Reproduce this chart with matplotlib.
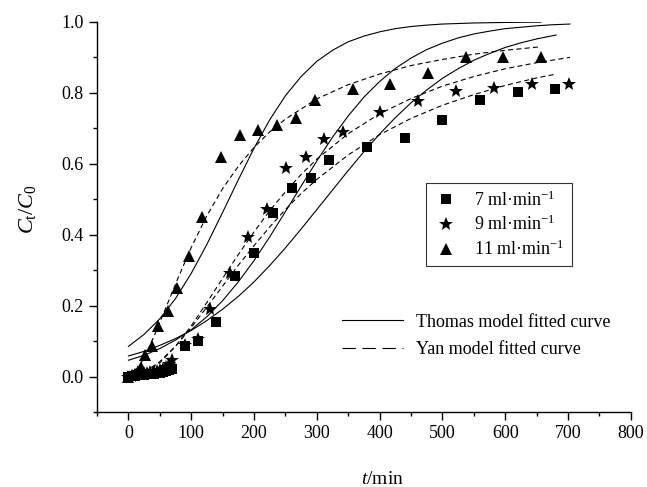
import matplotlib
matplotlib.use("Agg")
import matplotlib.pyplot as plt
from matplotlib.lines import Line2D
from matplotlib.ticker import MultipleLocator

plt.rcParams['font.family'] = ['Liberation Serif', 'DejaVu Serif']
plt.rcParams['mathtext.fontset'] = 'custom'
plt.rcParams['mathtext.rm'] = 'Liberation Serif'
plt.rcParams['mathtext.it'] = 'Liberation Serif:italic'

# measured points, 7 / 9 / 11 ml/min
t7 = [0, 5, 10, 15, 20, 25, 30, 35, 40, 45, 50, 55, 60, 65, 70,
      90, 110, 140, 170, 200, 230, 260, 290, 320, 380, 440, 500, 560, 620, 680]
c7 = [0.0, 0.001, 0.002, 0.003, 0.004, 0.005, 0.006, 0.007, 0.008, 0.010,
      0.011, 0.013, 0.015, 0.018, 0.022,
      0.086, 0.101, 0.155, 0.284, 0.348, 0.46, 0.531, 0.559, 0.612,
      0.648, 0.673, 0.723, 0.779, 0.801, 0.81]

t9 = [0, 5, 10, 15, 20, 25, 30, 35, 40, 45, 50, 55, 60, 65, 69,
      90, 110, 130, 161, 191, 221, 251, 282, 311, 342, 401, 461, 522, 582, 642, 702]
c9 = [0.0, 0.002, 0.004, 0.006, 0.008, 0.010, 0.011, 0.012, 0.013, 0.015,
      0.018, 0.022, 0.028, 0.035, 0.047,
      0.09, 0.105, 0.191, 0.291, 0.394, 0.472, 0.587, 0.62, 0.669, 0.69,
      0.746, 0.777, 0.806, 0.814, 0.824, 0.824]

t11 = [0, 5, 10, 15, 20, 27, 37, 47, 63, 77, 97, 117, 147, 177, 207,
       237, 267, 297, 357, 417, 477, 537, 597, 657]
c11 = [0.0, 0.003, 0.008, 0.015, 0.028, 0.061, 0.085, 0.143, 0.185, 0.249,
       0.341, 0.449, 0.62, 0.681, 0.695, 0.709, 0.728, 0.779, 0.81, 0.826,
       0.855, 0.90, 0.90, 0.90]

# Thomas fitted curves (solid)
th7_t = [0, 25, 50, 75, 100, 125, 150, 175, 200, 225, 250, 275, 300, 325,
         350, 375, 400, 425, 450, 475, 500, 525, 550, 575, 600, 625, 650, 681]
th7_c = [0.058, 0.071, 0.088, 0.107, 0.130, 0.158, 0.190, 0.226, 0.267,
         0.313, 0.363, 0.416, 0.471, 0.526, 0.581, 0.634, 0.684, 0.730,
         0.772, 0.808, 0.841, 0.868, 0.892, 0.911, 0.928, 0.941, 0.952, 0.963]
th9_t = [0, 25, 50, 75, 100, 125, 150, 175, 200, 225, 250, 275, 300, 325,
         350, 375, 400, 425, 450, 475, 500, 525, 550, 575, 600, 625, 650,
         675, 703]
th9_c = [0.046, 0.060, 0.079, 0.103, 0.132, 0.169, 0.214, 0.267, 0.327,
         0.394, 0.465, 0.537, 0.608, 0.675, 0.735, 0.788, 0.832, 0.869,
         0.898, 0.922, 0.940, 0.955, 0.966, 0.974, 0.981, 0.985, 0.989,
         0.992, 0.994]
th11_t = [0, 25, 50, 75, 100, 125, 150, 175, 200, 225, 250, 275, 300, 325,
          350, 375, 400, 425, 450, 475, 500, 550, 600, 657]
th11_c = [0.085, 0.119, 0.163, 0.220, 0.291, 0.373, 0.463, 0.555, 0.644,
          0.724, 0.792, 0.846, 0.889, 0.920, 0.944, 0.960, 0.972, 0.981,
          0.987, 0.991, 0.994, 0.997, 0.9985, 0.9994]

# Yan fitted curves (dashed)
yan7_t = [0, 10, 25, 50, 75, 100, 125, 150, 175, 200, 225, 250, 275, 300,
          350, 400, 450, 500, 550, 600, 650, 681]
yan7_c = [0.0, 0.002, 0.012, 0.042, 0.086, 0.138, 0.196, 0.255, 0.314,
          0.369, 0.422, 0.471, 0.516, 0.556, 0.625, 0.682, 0.728, 0.765,
          0.795, 0.821, 0.842, 0.853]
yan9_t = [0, 10, 25, 50, 75, 100, 125, 150, 175, 200, 225, 250, 275, 300,
          350, 400, 450, 500, 550, 600, 650, 703]
yan9_c = [0.0, 0.0015, 0.0097, 0.039, 0.085, 0.143, 0.209, 0.277, 0.344,
          0.408, 0.468, 0.521, 0.570, 0.613, 0.685, 0.741, 0.784, 0.819,
          0.846, 0.868, 0.885, 0.90]
yan11_t = [0, 5, 10, 20, 30, 45, 60, 80, 100, 125, 150, 175, 200, 225, 250,
           300, 350, 400, 450, 500, 550, 600, 657]
yan11_c = [0.0, 0.004, 0.012, 0.037, 0.071, 0.131, 0.196, 0.282, 0.364,
           0.454, 0.530, 0.593, 0.646, 0.690, 0.726, 0.783, 0.823, 0.853,
           0.877, 0.894, 0.909, 0.920, 0.930]

fig = plt.figure(figsize=(6.47, 4.87), dpi=100)
ax = fig.add_axes([0.150, 0.154, 0.825, 0.801])

lw = 0.8
dash = (4.5, 3)
for tt, cc in [(th7_t, th7_c), (th9_t, th9_c), (th11_t, th11_c)]:
    ax.plot(tt, cc, color='black', lw=lw)
for tt, cc in [(yan7_t, yan7_c), (yan9_t, yan9_c), (yan11_t, yan11_c)]:
    ax.plot(tt, cc, color='black', lw=lw, dashes=dash)

h7, = ax.plot(t7, c7, 's', color='black', ms=7, mew=0, label='7 ml·min$^{-1}$')
h9, = ax.plot(t9, c9, '*', color='black', ms=10.5, mew=0, label='9 ml·min$^{-1}$')
h11, = ax.plot(t11, c11, '^', color='black', ms=8.5, mew=0, label='11 ml·min$^{-1}$')

ax.set_xlim(-50, 800)
ax.set_ylim(-0.1, 1.0)
ax.set_xticks([0, 100, 200, 300, 400, 500, 600, 700, 800])
ax.xaxis.set_minor_locator(MultipleLocator(50))
ax.set_yticks([0.0, 0.2, 0.4, 0.6, 0.8, 1.0])
ax.set_yticklabels(['0.0', '0.2', '0.4', '0.6', '0.8', '1.0'])
ax.yaxis.set_minor_locator(MultipleLocator(0.1))

for side in ['top', 'right']:
    ax.spines[side].set_visible(False)
for side in ['left', 'bottom']:
    ax.spines[side].set_linewidth(1.0)
ax.tick_params(which='major', direction='out', length=6, width=1.0, labelsize=13)
ax.tick_params(which='minor', direction='out', length=3, width=1.0)

ax.set_xlabel('$t$/min', fontsize=14)
ax.xaxis.set_label_coords(0.535, -0.15)
ax.set_ylabel(r'$C_\mathrm{t}/C_\mathrm{0}$', fontsize=16)
ax.yaxis.set_label_coords(-0.11, 0.52)

leg1 = ax.legend(handles=[h7, h9, h11], loc='upper left',
                 bbox_to_anchor=(0.6155, 0.587), fontsize=13,
                 frameon=True, fancybox=False, edgecolor='black',
                 handletextpad=0.8, borderpad=0.4, labelspacing=0.3,
                 handlelength=1.5, borderaxespad=0)
leg1.get_frame().set_linewidth(0.8)
ax.add_artist(leg1)

l_th = Line2D([], [], color='black', lw=lw)
l_yan = Line2D([], [], color='black', lw=lw, dashes=(12, 6))
ax.legend([l_th, l_yan], ['Thomas model fitted curve', 'Yan model fitted curve'],
          loc='upper left', bbox_to_anchor=(0.458, 0.252), fontsize=13,
          frameon=False, handlelength=3.4, handletextpad=0.75,
          borderpad=0, borderaxespad=0, labelspacing=0.57)

fig.savefig('out.png', dpi=100)
